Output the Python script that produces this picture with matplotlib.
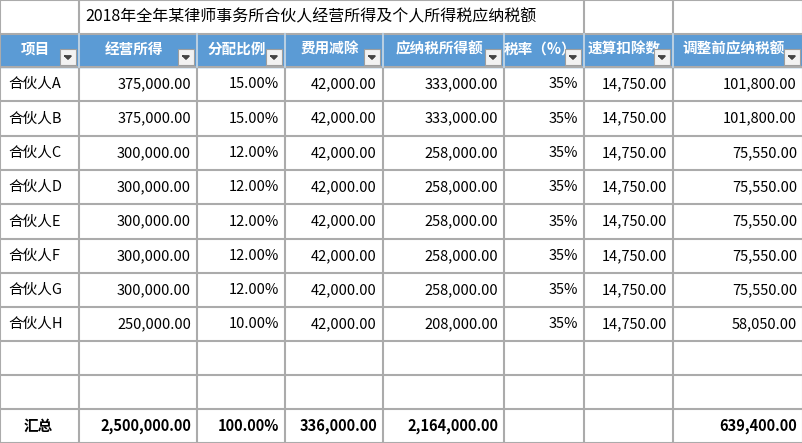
import matplotlib
matplotlib.use("Agg")
import matplotlib.pyplot as plt
from matplotlib.patches import Rectangle

plt.rcParams["font.family"] = "Noto Sans CJK SC"

# --- DATA ---
title = "2018年全年某律师事务所合伙人经营所得及个人所得税应纳税额"
headers = ["项目", "经营所得", "分配比例", "费用减除", "应纳税所得额", "税率（%）", "速算扣除数", "调整前应纳税额"]
partners = ["合伙人A", "合伙人B", "合伙人C", "合伙人D", "合伙人E", "合伙人F", "合伙人G", "合伙人H"]
income = [375000, 375000, 300000, 300000, 300000, 300000, 300000, 250000]
share = [15.0, 15.0, 12.0, 12.0, 12.0, 12.0, 12.0, 10.0]
deduction = [42000] * 8
taxable = [333000, 333000, 258000, 258000, 258000, 258000, 258000, 208000]
rate = [35] * 8
quick = [14750] * 8
tax = [101800, 101800, 75550, 75550, 75550, 75550, 75550, 58050]
totals = ["汇总", "2,500,000.00", "100.00%", "336,000.00", "2,164,000.00", "", "", "639,400.00"]

# --- LAYOUT (pixels) ---
W, H = 803, 443
col_x = [0, 79, 197, 285, 383, 504, 584, 673, 803]
row_y = [0, 34, 67, 101, 136, 170, 204, 239, 273, 307, 341, 375, 409, 443]
GRID = "#ABABAB"
BLUE = "#5B9BD5"

fig = plt.figure(figsize=(W / 100, H / 100), dpi=100)
ax = fig.add_axes([0, 0, 1, 1])
ax.set_xlim(0, W)
ax.set_ylim(H, 0)
ax.axis("off")

FS = 10.5

# header background
ax.add_patch(Rectangle((0, row_y[1]), W, row_y[2] - row_y[1], color=BLUE, zorder=1))

# grid lines
for r in range(len(row_y)):
    ax.plot([0, W], [row_y[r], row_y[r]], color=GRID, lw=1.5, zorder=2)
for i, x in enumerate(col_x):
    if 1 < i < 6:
        # merged title cell: no divider in title row
        ax.plot([x, x], [row_y[1], H], color=GRID, lw=1.5, zorder=2)
    else:
        ax.plot([x, x], [0, H], color=GRID, lw=1.5, zorder=2)
for x in col_x[1:-1]:
    ax.plot([x, x], [row_y[1], row_y[2]], color="#BDD7EE", lw=1.2, zorder=3)

ax.text(col_x[1] + 6, (row_y[0] + row_y[1]) / 2, title, fontsize=11.5,
        va="center", ha="left", zorder=4)

# headers with filter buttons
for i, h in enumerate(headers):
    cx = (col_x[i] + col_x[i + 1]) / 2
    ax.text(cx - 4, (row_y[1] + row_y[2]) / 2 - 2, h, fontsize=FS, color="white",
            weight="bold", va="center", ha="center", zorder=4)
    bx = col_x[i + 1] - 19
    by = row_y[2] - 18
    ax.add_patch(Rectangle((bx, by), 16, 16, facecolor="#F2F2F2",
                           edgecolor="#9E9E9E", lw=0.8, zorder=5))
    ax.plot([bx + 5, bx + 11, bx + 8, bx + 5], [by + 7, by + 7, by + 10, by + 7],
            color="#444444", lw=1, zorder=6)
    ax.fill([bx + 5, bx + 11, bx + 8], [by + 7, by + 7, by + 10], color="#444444", zorder=6)

def cell_right(i, r, s, bold=False):
    ax.text(col_x[i + 1] - 6, (row_y[r] + row_y[r + 1]) / 2, s, fontsize=FS,
            va="center", ha="right", weight="bold" if bold else "normal", zorder=4)

for k, name in enumerate(partners):
    r = k + 2
    ax.text(col_x[0] + 8, (row_y[r] + row_y[r + 1]) / 2, name, fontsize=FS,
            va="center", ha="left", zorder=4)
    cell_right(1, r, f"{income[k]:,.2f}")
    cell_right(2, r, f"{share[k]:.2f}%")
    cell_right(3, r, f"{deduction[k]:,.2f}")
    cell_right(4, r, f"{taxable[k]:,.2f}")
    cell_right(5, r, f"{rate[k]}%")
    cell_right(6, r, f"{quick[k]:,.2f}")
    cell_right(7, r, f"{tax[k]:,.2f}")

r = len(row_y) - 2
ax.text(col_x[0] + 24, (row_y[r] + row_y[r + 1]) / 2, totals[0], fontsize=FS,
        va="center", ha="left", weight="bold", zorder=4)
for i in range(1, 8):
    cell_right(i, r, totals[i], bold=True)

fig.savefig("out.png", dpi=100)
